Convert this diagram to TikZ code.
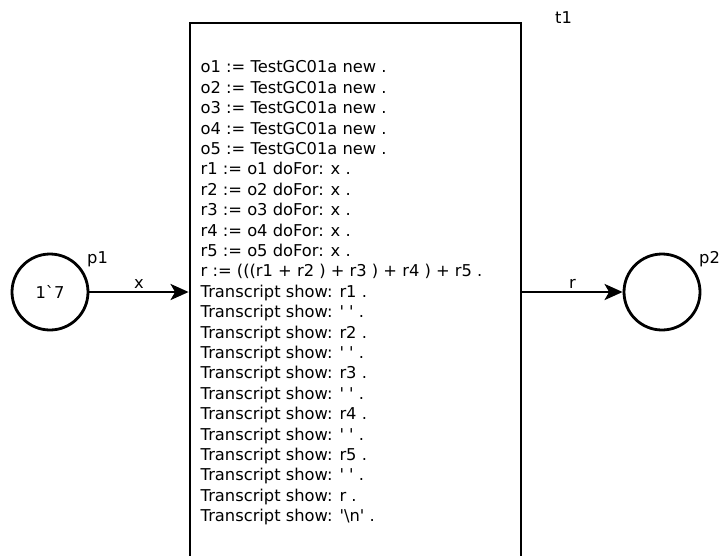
\documentclass[tikz,border=0pt]{standalone}
\usepackage{fontspec}
\setmainfont{DejaVu Sans}
\usetikzlibrary{arrows.meta}
\begin{document}
\begin{tikzpicture}[x=1pt,y=-1pt,
  every node/.style={font=\fontsize{16.3}{19}\selectfont},
  place/.style={circle,draw,line width=2.8pt,minimum size=76pt,inner sep=0pt},
  trans/.style={rectangle,draw,line width=2.8pt,minimum width=331pt,minimum height=538pt,inner sep=0pt},
  arc/.style={line width=2.8pt,-{Stealth[length=18pt,width=16pt,inset=4.5pt]}},
  lbl/.style={anchor=base west,inner sep=0pt},
  code/.style={anchor=base west,inner sep=0pt}]
\useasboundingbox (0,0) rectangle (719,555);
\clip (0,0) rectangle (719,555);
% places and transition
\node[place] (p1) at (50,292) {1\textasciigrave 7};
\node[place] (p2) at (662,292) {};
\node[trans] (t1) at (355.5,292) {};
% names
\node[lbl] (p1n) at (87,263.5) {p1};
\node[lbl] (p2n) at (699,263.5) {p2};
\node[lbl] (t1n) at (555,23) {t1};
% arcs
\draw[arc] (p1) -- (t1.west |- p1) node[midway,above,inner sep=2.5pt] (ax) {x};
\draw[arc] (t1.east |- p2) -- (p2) node[midway,above,inner sep=2.5pt] (ar) {r};
% transition code
\foreach \t [count=\i] in {
  {o1 := TestGC01a new .},
  {o2 := TestGC01a new .},
  {o3 := TestGC01a new .},
  {o4 := TestGC01a new .},
  {o5 := TestGC01a new .},
  {r1 := o1 doFor: x .},
  {r2 := o2 doFor: x .},
  {r3 := o3 doFor: x .},
  {r4 := o4 doFor: x .},
  {r5 := o5 doFor: x .},
  {r := (((r1 + r2 ) + r3 ) + r4 ) + r5 .},
  {Transcript show: r1 .},
  {Transcript show: \textquotesingle\ \textquotesingle\ .},
  {Transcript show: r2 .},
  {Transcript show: \textquotesingle\ \textquotesingle\ .},
  {Transcript show: r3 .},
  {Transcript show: \textquotesingle\ \textquotesingle\ .},
  {Transcript show: r4 .},
  {Transcript show: \textquotesingle\ \textquotesingle\ .},
  {Transcript show: r5 .},
  {Transcript show: \textquotesingle\ \textquotesingle\ .},
  {Transcript show: r .},
  {Transcript show: \textquotesingle\textbackslash n\textquotesingle\ .}}
  \node[code] (c\i) at (200.5,{72.8+(\i-1)*20.4}) {\t};
\end{tikzpicture}
\end{document}
